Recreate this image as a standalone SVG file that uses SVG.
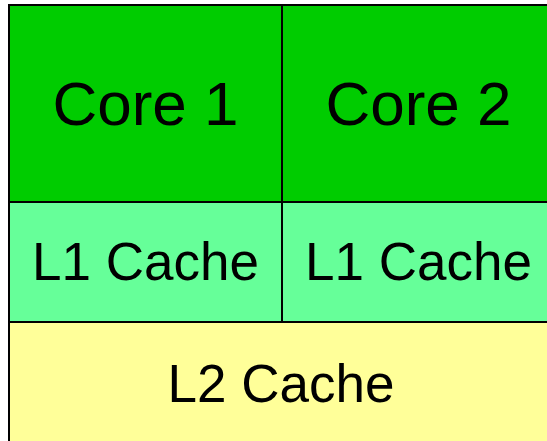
<svg xmlns="http://www.w3.org/2000/svg" width="547" height="441" viewBox="0 0 547 441">
<style>
.cell{stroke:#000;stroke-width:2}
.t{font-family:"Liberation Sans",Arial,sans-serif;text-anchor:middle;fill:#000}
.big{font-size:62px}
.mid{font-size:53px}
</style>
<rect width="547" height="441" fill="#fff"/>
<g id="core1"><rect class="cell" x="9" y="5" width="273" height="197" fill="#00CC00"/><text class="t big" x="145.5" y="125">Core 1</text></g>
<g id="core2"><rect class="cell" x="282" y="5" width="274" height="197" fill="#00CC00"/><text class="t big" x="418.5" y="125">Core 2</text></g>
<g id="l1a"><rect class="cell" x="9" y="202" width="273" height="120" fill="#66FF99"/><text class="t mid" x="145.5" y="280">L1 Cache</text></g>
<g id="l1b"><rect class="cell" x="282" y="202" width="274" height="120" fill="#66FF99"/><text class="t mid" x="418.5" y="280">L1 Cache</text></g>
<g id="l2"><rect class="cell" x="9" y="322" width="547" height="130" fill="#FFFF99"/><text class="t mid" x="281" y="402">L2 Cache</text></g>
<g id="connectors"></g>
</svg>
